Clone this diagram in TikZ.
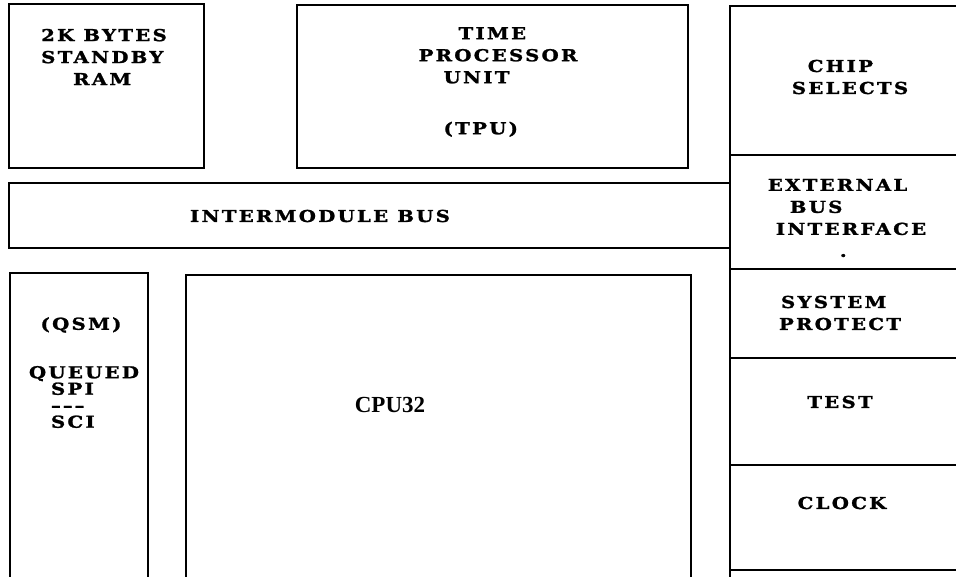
\documentclass[tikz,border=0pt]{standalone}
\usepackage{fontspec}
\usepackage{tikz}
\usetikzlibrary{positioning}
\newfontfamily\slabfont[UprightFont=* Bold, LetterSpace=14, FakeStretch=1.2, FakeBold=1.5]{DejaVu Serif}
\newfontfamily\cpufont{Liberation Serif}

\begin{document}
\begin{tikzpicture}[
    x=1pt, y=-1pt,
    box/.style={rectangle, draw, line width=2pt, inner sep=0pt},
    wall/.style={line width=2pt},
    txt/.style={font=\slabfont\fontsize{16.4}{22}\selectfont, inner sep=0pt, align=center}
]
\useasboundingbox (0,0) rectangle (956,577);

% Top modules
\node[box, minimum width=195pt, minimum height=164pt] (ram) at (106.5,86) {};
\node[box, minimum width=391pt, minimum height=163pt] (tpu) at (492.5,86.5) {};
\node[txt, align=left] (ramtxt) at (104,57) {2K BYTES\\STANDBY\\\hspace{32pt}RAM};
\node[txt, align=left] (tputxt) at (498,82) {\hspace{40pt}TIME\\PROCESSOR\\\hspace{25pt}UNIT\\[29pt]\hspace{25pt}(TPU)};

% Intermodule bus
\node[box, minimum width=721pt, minimum height=65pt] (bus) at (369.5,215.5) {};
\node[txt] (bustxt) at (320,216) {INTERMODULE BUS};

% Lower modules, open at the bottom
\draw[wall] (10,577) -- (10,273) -- (148,273) -- (148,577);
\node[txt] (qsmname) at (81,325) {(QSM)};
\node[txt, align=left, font=\slabfont\fontsize{16.4}{16.5}\selectfont] (qsmtxt) at (84,397)
    {QUEUED\\\hspace{22pt}SPI\\\hspace{22pt}\textendash\kern2pt\textendash\kern2pt\textendash\\\hspace{22pt}SCI};
\draw[wall] (186,577) -- (186,275) -- (691,275) -- (691,577);
\node[font=\cpufont\bfseries\fontsize{23}{26}\selectfont, inner sep=0pt] (cpu) at (390,405) {CPU32};

% Right column
\draw[wall] (956,6) -- (730,6) -- (730,577);
\foreach \y in {155,269,358,465,570}
    \draw[wall] (730,\y) -- (956,\y);
\node[txt, align=left] (chip) at (850,77) {\hspace{16pt}CHIP\\SELECTS};
\node[txt, align=left] (ebi) at (847,218) {EXTERNAL\\\hspace{22pt}BUS\\\hspace{8pt}INTERFACE\\\hspace{72pt}.};
\node[txt, align=left] (prot) at (840,313) {\hspace{2pt}SYSTEM\\PROTECT};
\node[txt] (test) at (840,402) {TEST};
\node[txt] (clock) at (842,503) {CLOCK};

\end{tikzpicture}
\end{document}
